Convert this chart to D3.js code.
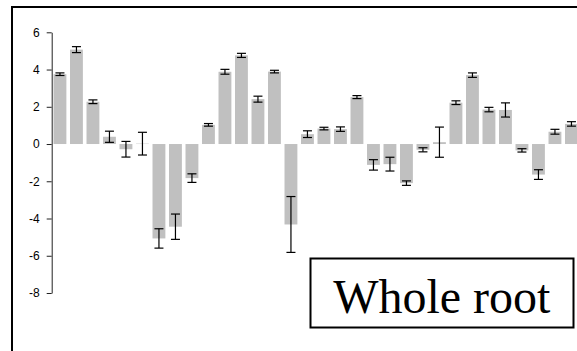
<!DOCTYPE html>
<html>
<head>
<meta charset="utf-8">
<script src="https://cdn.jsdelivr.net/npm/d3@7"></script>
<style>
  html, body { margin: 0; padding: 0; background: #fff; overflow: hidden; }
  svg { display: block; }
</style>
</head>
<body>
<svg id="chart" width="577" height="351"></svg>
<script>
// Mean change per sample, with the standard error of each mean
const samples = d3.range(1, 33).map(i => "S" + i);
const means = [3.75, 5.07, 2.27, 0.39, -0.28, 0.02, -5.07, -4.44, -1.83,
  1.03, 3.88, 4.76, 2.41, 3.89, -4.32, 0.53, 0.83, 0.8, 2.52,
  -1.12, -1.08, -2.1, -0.31, 0.1, 2.22, 3.7, 1.85, 1.83, -0.34, -1.64, 0.66, 1.08];
const errors = [0.07, 0.16, 0.1, 0.3, 0.42, 0.61, 0.52, 0.68, 0.23,
  0.07, 0.13, 0.11, 0.16, 0.07, 1.5, 0.18, 0.07, 0.12, 0.08,
  0.28, 0.37, 0.12, 0.11, 0.81, 0.1, 0.12, 0.12, 0.38, 0.09, 0.26, 0.13, 0.12];
const yTicks = [6, 4, 2, 0, -2, -4, -6, -8];
const panelLabel = "Whole root";

const svg = d3.select("#chart");

// Outer frame of the panel (continues past the right and bottom edges)
svg.append("rect")
  .attr("x", 12).attr("y", 7)
  .attr("width", 640).attr("height", 420)
  .attr("fill", "none").attr("stroke", "#000").attr("stroke-width", 2);

const x = d3.scaleBand()
  .domain(samples)
  .range([51.7, 51.7 + 32 * 16.5])
  .paddingInner(0.22)
  .paddingOuter(0.11);

const y = d3.scaleLinear().domain([-8, 6]).range([293, 32.3]);

// Bars
svg.append("g")
  .selectAll("rect")
  .data(means)
  .join("rect")
  .attr("x", (d, i) => x(samples[i]))
  .attr("width", x.bandwidth())
  .attr("y", d => y(Math.max(0, d)))
  .attr("height", d => Math.abs(y(d) - y(0)))
  .attr("fill", "#c0c0c0");

// Error bars
const cap = 4.5;
const eb = svg.append("g")
  .attr("stroke", "#000")
  .attr("stroke-width", 1.2)
  .selectAll("g")
  .data(means)
  .join("g")
  .attr("transform", (d, i) => `translate(${x(samples[i]) + x.bandwidth() / 2},0)`);

eb.append("line")
  .attr("y1", (d, i) => y(d + errors[i]))
  .attr("y2", (d, i) => y(d - errors[i]));
eb.append("line")
  .attr("x1", -cap).attr("x2", cap)
  .attr("y1", (d, i) => y(d + errors[i]))
  .attr("y2", (d, i) => y(d + errors[i]));
eb.append("line")
  .attr("x1", -cap).attr("x2", cap)
  .attr("y1", (d, i) => y(d - errors[i]))
  .attr("y2", (d, i) => y(d - errors[i]));

// Y axis (plain hyphen for negative labels)
const yAxis = svg.append("g")
  .attr("transform", "translate(51.7,0)")
  .call(d3.axisLeft(y).tickValues(yTicks).tickSize(5).tickPadding(7).tickSizeOuter(0)
    .tickFormat(d => String(d)));
yAxis.selectAll("path, line").attr("stroke", "#222");
yAxis.selectAll("text")
  .attr("fill", "#000")
  .style("font-family", "'Liberation Sans', Arial, sans-serif")
  .style("font-size", "12px");

// Panel label
const lg = svg.append("g");
lg.append("rect")
  .attr("x", 310.5).attr("y", 258.5)
  .attr("width", 263).attr("height", 69)
  .attr("fill", "#fff").attr("stroke", "#000").attr("stroke-width", 2);
lg.append("text")
  .attr("x", 441.8).attr("y", 313.3)
  .attr("text-anchor", "middle")
  .style("font-family", "'Liberation Serif', 'Times New Roman', serif")
  .style("font-size", "48px")
  .attr("fill", "#000")
  .text(panelLabel);
</script>
</body>
</html>
